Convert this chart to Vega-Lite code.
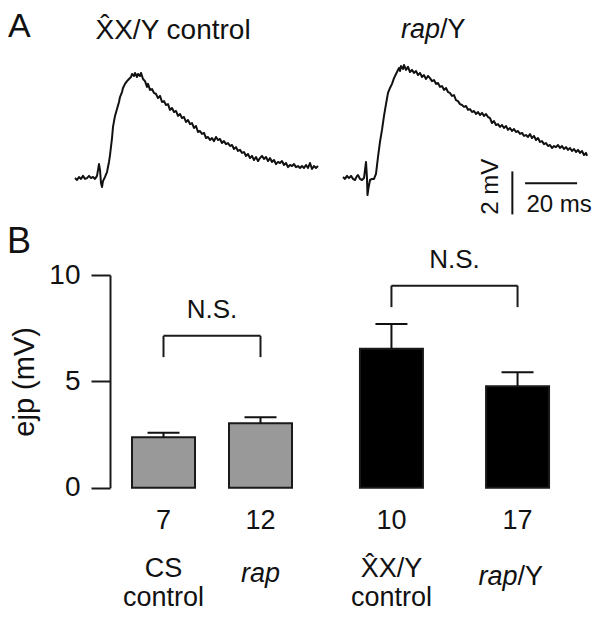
{
"$schema": "https://vega.github.io/schema/vega-lite/v6.json",
"width": 602, "height": 619, "autosize": {"type": "none"}, "padding": 0, "background": "white",
"config": {"view": {"stroke": null}, "font": "Liberation Sans", "text": {"font": "Liberation Sans", "color": "#111111"},
 "axis": {"grid": false, "tickSize": 19, "tickWidth": 2, "tickColor": "#1a1a1a", "domainWidth": 2, "domainColor": "#1a1a1a",
  "labelFont": "Liberation Sans", "labelFontSize": 28, "labelColor": "#111111", "labelPadding": 11,
  "titleFont": "Liberation Sans", "titleFontSize": 29, "titleFontWeight": "normal", "titleColor": "#111111", "titlePadding": 9}},
"datasets": {
"traces": [
{"trace":"control","t":-9.62,"mV":0.09},{"trace":"control","t":-8.85,"mV":0.00},{"trace":"control","t":-8.08,"mV":0.14},{"trace":"control","t":-7.31,"mV":0.05},{"trace":"control","t":-6.54,"mV":0.19},{"trace":"control","t":-5.77,"mV":0.05},{"trace":"control","t":-5.00,"mV":0.09},{"trace":"control","t":-4.23,"mV":0.19},{"trace":"control","t":-3.46,"mV":0.09},{"trace":"control","t":-2.69,"mV":0.14},{"trace":"control","t":-1.92,"mV":0.05},{"trace":"control","t":-1.15,"mV":0.19},{"trace":"control","t":-0.38,"mV":0.74},{"trace":"control","t":0.00,"mV":0.47},{"trace":"control","t":0.38,"mV":-0.14},{"trace":"control","t":0.77,"mV":-0.33},{"trace":"control","t":1.15,"mV":-0.05},{"trace":"control","t":1.92,"mV":0.14},{"trace":"control","t":2.69,"mV":0.37},{"trace":"control","t":3.46,"mV":0.84},{"trace":"control","t":3.85,"mV":1.16},{"trace":"control","t":4.62,"mV":1.95},{"trace":"control","t":5.00,"mV":2.47},{"trace":"control","t":5.77,"mV":2.98},{"trace":"control","t":6.54,"mV":3.30},{"trace":"control","t":7.31,"mV":3.63},{"trace":"control","t":7.69,"mV":3.86},{"trace":"control","t":8.46,"mV":4.09},{"trace":"control","t":8.85,"mV":4.28},{"trace":"control","t":9.62,"mV":4.47},{"trace":"control","t":10.38,"mV":4.60},{"trace":"control","t":11.15,"mV":4.70},{"trace":"control","t":11.92,"mV":4.79},{"trace":"control","t":12.31,"mV":4.93},{"trace":"control","t":13.08,"mV":4.84},{"trace":"control","t":13.46,"mV":4.98},{"trace":"control","t":14.23,"mV":4.79},{"trace":"control","t":14.62,"mV":4.93},{"trace":"control","t":15.38,"mV":4.84},{"trace":"control","t":15.77,"mV":4.98},{"trace":"control","t":16.54,"mV":4.70},{"trace":"control","t":17.31,"mV":4.60},{"trace":"control","t":18.08,"mV":4.33},{"trace":"control","t":18.46,"mV":4.47},{"trace":"control","t":19.23,"mV":4.19},{"trace":"control","t":20.00,"mV":4.23},{"trace":"control","t":20.77,"mV":4.05},{"trace":"control","t":21.54,"mV":4.00},{"trace":"control","t":22.31,"mV":3.81},{"trace":"control","t":23.08,"mV":3.91},{"trace":"control","t":23.85,"mV":3.63},{"trace":"control","t":24.62,"mV":3.67},{"trace":"control","t":25.38,"mV":3.49},{"trace":"control","t":26.15,"mV":3.53},{"trace":"control","t":26.92,"mV":3.26},{"trace":"control","t":27.69,"mV":3.35},{"trace":"control","t":28.46,"mV":3.16},{"trace":"control","t":29.23,"mV":3.21},{"trace":"control","t":30.00,"mV":2.98},{"trace":"control","t":30.77,"mV":3.07},{"trace":"control","t":31.54,"mV":2.88},{"trace":"control","t":32.31,"mV":2.93},{"trace":"control","t":33.08,"mV":2.70},{"trace":"control","t":33.85,"mV":2.79},{"trace":"control","t":34.62,"mV":2.60},{"trace":"control","t":35.38,"mV":2.65},{"trace":"control","t":36.15,"mV":2.42},{"trace":"control","t":36.92,"mV":2.51},{"trace":"control","t":37.69,"mV":2.23},{"trace":"control","t":38.46,"mV":2.28},{"trace":"control","t":39.23,"mV":2.14},{"trace":"control","t":40.00,"mV":2.19},{"trace":"control","t":40.77,"mV":1.95},{"trace":"control","t":41.54,"mV":2.00},{"trace":"control","t":42.31,"mV":1.86},{"trace":"control","t":43.08,"mV":1.95},{"trace":"control","t":43.85,"mV":1.81},{"trace":"control","t":44.62,"mV":2.00},{"trace":"control","t":45.38,"mV":1.86},{"trace":"control","t":46.15,"mV":1.91},{"trace":"control","t":46.92,"mV":1.72},{"trace":"control","t":47.69,"mV":1.81},{"trace":"control","t":48.46,"mV":1.67},{"trace":"control","t":49.23,"mV":1.72},{"trace":"control","t":50.00,"mV":1.58},{"trace":"control","t":50.77,"mV":1.63},{"trace":"control","t":51.54,"mV":1.44},{"trace":"control","t":52.31,"mV":1.53},{"trace":"control","t":53.08,"mV":1.35},{"trace":"control","t":53.85,"mV":1.40},{"trace":"control","t":54.62,"mV":1.26},{"trace":"control","t":55.38,"mV":1.30},{"trace":"control","t":56.15,"mV":1.12},{"trace":"control","t":56.92,"mV":1.21},{"trace":"control","t":57.69,"mV":1.02},{"trace":"control","t":58.46,"mV":1.12},{"trace":"control","t":59.23,"mV":0.93},{"trace":"control","t":60.00,"mV":1.07},{"trace":"control","t":60.77,"mV":0.88},{"trace":"control","t":61.54,"mV":1.02},{"trace":"control","t":62.31,"mV":1.12},{"trace":"control","t":63.08,"mV":0.98},{"trace":"control","t":63.85,"mV":1.07},{"trace":"control","t":64.62,"mV":0.88},{"trace":"control","t":65.38,"mV":1.02},{"trace":"control","t":66.15,"mV":0.84},{"trace":"control","t":66.92,"mV":0.93},{"trace":"control","t":67.69,"mV":0.74},{"trace":"control","t":68.46,"mV":0.84},{"trace":"control","t":69.23,"mV":0.79},{"trace":"control","t":70.00,"mV":0.88},{"trace":"control","t":70.77,"mV":0.70},{"trace":"control","t":71.54,"mV":0.79},{"trace":"control","t":72.31,"mV":0.60},{"trace":"control","t":73.08,"mV":0.70},{"trace":"control","t":73.85,"mV":0.65},{"trace":"control","t":74.62,"mV":0.74},{"trace":"control","t":75.38,"mV":0.60},{"trace":"control","t":76.15,"mV":0.65},{"trace":"control","t":76.92,"mV":0.56},{"trace":"control","t":77.69,"mV":0.65},{"trace":"control","t":78.46,"mV":0.56},{"trace":"control","t":79.23,"mV":0.70},{"trace":"control","t":80.00,"mV":0.56},{"trace":"control","t":80.77,"mV":0.79},{"trace":"control","t":81.54,"mV":0.51},{"trace":"control","t":82.31,"mV":0.65},{"trace":"control","t":83.08,"mV":0.56},{"trace":"control","t":83.85,"mV":0.65},
{"trace":"rap/Y","t":93.46,"mV":0.14},{"trace":"rap/Y","t":94.23,"mV":0.05},{"trace":"rap/Y","t":95.00,"mV":0.19},{"trace":"rap/Y","t":95.77,"mV":0.09},{"trace":"rap/Y","t":96.54,"mV":0.19},{"trace":"rap/Y","t":97.31,"mV":0.05},{"trace":"rap/Y","t":98.08,"mV":0.00},{"trace":"rap/Y","t":98.85,"mV":0.19},{"trace":"rap/Y","t":99.23,"mV":0.23},{"trace":"rap/Y","t":100.00,"mV":0.05},{"trace":"rap/Y","t":100.77,"mV":0.00},{"trace":"rap/Y","t":101.54,"mV":0.09},{"trace":"rap/Y","t":102.31,"mV":0.84},{"trace":"rap/Y","t":102.69,"mV":0.09},{"trace":"rap/Y","t":102.88,"mV":-0.70},{"trace":"rap/Y","t":103.27,"mV":-0.37},{"trace":"rap/Y","t":103.85,"mV":0.00},{"trace":"rap/Y","t":104.62,"mV":0.05},{"trace":"rap/Y","t":105.38,"mV":0.05},{"trace":"rap/Y","t":106.15,"mV":0.28},{"trace":"rap/Y","t":106.92,"mV":1.07},{"trace":"rap/Y","t":107.69,"mV":1.77},{"trace":"rap/Y","t":108.46,"mV":2.33},{"trace":"rap/Y","t":109.23,"mV":2.98},{"trace":"rap/Y","t":110.00,"mV":3.53},{"trace":"rap/Y","t":110.77,"mV":4.05},{"trace":"rap/Y","t":111.54,"mV":4.28},{"trace":"rap/Y","t":112.31,"mV":4.47},{"trace":"rap/Y","t":113.08,"mV":4.74},{"trace":"rap/Y","t":113.85,"mV":4.93},{"trace":"rap/Y","t":114.62,"mV":5.12},{"trace":"rap/Y","t":115.00,"mV":5.21},{"trace":"rap/Y","t":115.38,"mV":5.07},{"trace":"rap/Y","t":115.77,"mV":5.30},{"trace":"rap/Y","t":116.54,"mV":5.16},{"trace":"rap/Y","t":116.92,"mV":5.35},{"trace":"rap/Y","t":117.69,"mV":5.12},{"trace":"rap/Y","t":118.46,"mV":5.26},{"trace":"rap/Y","t":119.23,"mV":5.02},{"trace":"rap/Y","t":120.00,"mV":5.12},{"trace":"rap/Y","t":120.77,"mV":4.98},{"trace":"rap/Y","t":121.54,"mV":5.07},{"trace":"rap/Y","t":122.31,"mV":4.88},{"trace":"rap/Y","t":123.08,"mV":4.98},{"trace":"rap/Y","t":123.85,"mV":4.79},{"trace":"rap/Y","t":124.62,"mV":4.88},{"trace":"rap/Y","t":125.38,"mV":4.70},{"trace":"rap/Y","t":126.15,"mV":4.84},{"trace":"rap/Y","t":126.92,"mV":4.74},{"trace":"rap/Y","t":127.69,"mV":4.60},{"trace":"rap/Y","t":128.46,"mV":4.65},{"trace":"rap/Y","t":129.23,"mV":4.47},{"trace":"rap/Y","t":130.00,"mV":4.51},{"trace":"rap/Y","t":130.77,"mV":4.33},{"trace":"rap/Y","t":131.54,"mV":4.37},{"trace":"rap/Y","t":132.31,"mV":4.19},{"trace":"rap/Y","t":133.08,"mV":4.28},{"trace":"rap/Y","t":133.85,"mV":4.09},{"trace":"rap/Y","t":134.62,"mV":4.05},{"trace":"rap/Y","t":135.38,"mV":3.91},{"trace":"rap/Y","t":136.15,"mV":3.95},{"trace":"rap/Y","t":136.92,"mV":3.72},{"trace":"rap/Y","t":137.69,"mV":3.67},{"trace":"rap/Y","t":138.46,"mV":3.53},{"trace":"rap/Y","t":139.23,"mV":3.49},{"trace":"rap/Y","t":140.00,"mV":3.40},{"trace":"rap/Y","t":140.77,"mV":3.44},{"trace":"rap/Y","t":141.54,"mV":3.26},{"trace":"rap/Y","t":142.31,"mV":3.30},{"trace":"rap/Y","t":143.08,"mV":3.16},{"trace":"rap/Y","t":143.85,"mV":3.21},{"trace":"rap/Y","t":144.62,"mV":3.07},{"trace":"rap/Y","t":145.38,"mV":3.16},{"trace":"rap/Y","t":146.15,"mV":3.02},{"trace":"rap/Y","t":146.92,"mV":3.12},{"trace":"rap/Y","t":147.69,"mV":2.98},{"trace":"rap/Y","t":148.46,"mV":3.07},{"trace":"rap/Y","t":149.23,"mV":2.93},{"trace":"rap/Y","t":150.00,"mV":2.88},{"trace":"rap/Y","t":150.77,"mV":2.65},{"trace":"rap/Y","t":151.54,"mV":2.74},{"trace":"rap/Y","t":152.31,"mV":2.56},{"trace":"rap/Y","t":153.08,"mV":2.60},{"trace":"rap/Y","t":153.85,"mV":2.47},{"trace":"rap/Y","t":154.62,"mV":2.56},{"trace":"rap/Y","t":155.38,"mV":2.42},{"trace":"rap/Y","t":156.15,"mV":2.51},{"trace":"rap/Y","t":156.92,"mV":2.33},{"trace":"rap/Y","t":157.69,"mV":2.42},{"trace":"rap/Y","t":158.46,"mV":2.28},{"trace":"rap/Y","t":159.23,"mV":2.37},{"trace":"rap/Y","t":160.00,"mV":2.23},{"trace":"rap/Y","t":160.77,"mV":2.28},{"trace":"rap/Y","t":161.54,"mV":2.14},{"trace":"rap/Y","t":162.31,"mV":2.19},{"trace":"rap/Y","t":163.08,"mV":2.05},{"trace":"rap/Y","t":163.85,"mV":2.09},{"trace":"rap/Y","t":164.62,"mV":2.00},{"trace":"rap/Y","t":165.38,"mV":2.14},{"trace":"rap/Y","t":166.15,"mV":1.95},{"trace":"rap/Y","t":166.92,"mV":2.05},{"trace":"rap/Y","t":167.69,"mV":1.86},{"trace":"rap/Y","t":168.46,"mV":1.95},{"trace":"rap/Y","t":169.23,"mV":1.77},{"trace":"rap/Y","t":170.00,"mV":1.81},{"trace":"rap/Y","t":170.77,"mV":1.67},{"trace":"rap/Y","t":171.54,"mV":1.72},{"trace":"rap/Y","t":172.31,"mV":1.58},{"trace":"rap/Y","t":173.08,"mV":1.63},{"trace":"rap/Y","t":173.85,"mV":1.49},{"trace":"rap/Y","t":174.62,"mV":1.58},{"trace":"rap/Y","t":175.38,"mV":1.53},{"trace":"rap/Y","t":176.15,"mV":1.63},{"trace":"rap/Y","t":176.92,"mV":1.49},{"trace":"rap/Y","t":177.69,"mV":1.58},{"trace":"rap/Y","t":178.46,"mV":1.44},{"trace":"rap/Y","t":179.23,"mV":1.53},{"trace":"rap/Y","t":180.00,"mV":1.40},{"trace":"rap/Y","t":180.77,"mV":1.49},{"trace":"rap/Y","t":181.54,"mV":1.35},{"trace":"rap/Y","t":182.31,"mV":1.44},{"trace":"rap/Y","t":183.08,"mV":1.30},{"trace":"rap/Y","t":183.85,"mV":1.40},{"trace":"rap/Y","t":184.62,"mV":1.26},{"trace":"rap/Y","t":185.38,"mV":1.35},{"trace":"rap/Y","t":186.15,"mV":1.16},{"trace":"rap/Y","t":186.92,"mV":1.26},{"trace":"rap/Y","t":187.31,"mV":1.12}
],
"scalebars": [
{"bar":"2 mV","t_start":158.6,"t_end":158.6,"mV_start":-1.6,"mV_end":0.4},
{"bar":"20 ms","t_start":163.5,"t_end":183.5,"mV_start":-0.15,"mV_end":-0.15}
],
"bars": [
{"genotype":"CS control","pos":1,"sex":"female","mean":2.37,"upper":2.59,"n":7},
{"genotype":"rap","pos":2,"sex":"female","mean":3.03,"upper":3.31,"n":12},
{"genotype":"X\u0302X/Y control","pos":3.35,"sex":"male","mean":6.53,"upper":7.70,"n":10},
{"genotype":"rap/Y","pos":4.65,"sex":"male","mean":4.77,"upper":5.43,"n":17}
],
"comparisons": [
{"from":1,"to":2,"top":7.14,"leg":6.14,"label":"N.S."},
{"from":3.35,"to":4.65,"top":9.5,"leg":8.49,"label":"N.S."}
]
},
"layer": [
{
"layer": [
{"data": {"name": "traces"},
 "mark": {"type": "line", "color": "#111111", "strokeWidth": 2, "strokeJoin": "round"},
 "encoding": {
  "x": {"field": "t", "type": "quantitative", "scale": {"domain": [0, 100], "range": [100, 360], "zero": false, "nice": false, "padding": 0}, "axis": null},
  "y": {"field": "mV", "type": "quantitative", "scale": {"domain": [0, 2], "range": [180, 137], "zero": false, "nice": false, "padding": 0}, "axis": null},
  "detail": {"field": "trace"}}},
{"data": {"name": "scalebars"},
 "mark": {"type": "rule", "color": "#111111", "strokeWidth": 2},
 "encoding": {
  "x": {"field": "t_start", "type": "quantitative", "axis": null}, "x2": {"field": "t_end"},
  "y": {"field": "mV_start", "type": "quantitative", "axis": null}, "y2": {"field": "mV_end"}}},
{"data": {"values": [{"label": "2 mV"}]},
 "mark": {"type": "text", "fontSize": 24, "angle": 270, "align": "center", "baseline": "alphabetic"},
 "encoding": {"x": {"datum": 153.2, "axis": null}, "y": {"datum": -0.31, "axis": null}, "text": {"field": "label"}}},
{"data": {"values": [{"label": "20 ms"}]},
 "mark": {"type": "text", "fontSize": 24, "align": "center", "baseline": "alphabetic"},
 "encoding": {"x": {"datum": 176.6, "axis": null}, "y": {"datum": -1.48, "axis": null}, "text": {"field": "label"}}},
{"data": {"values": [{"label": "X\u0302X/Y control"}]},
 "mark": {"type": "text", "fontSize": 28, "align": "center", "baseline": "alphabetic"},
 "encoding": {"x": {"datum": 28.1, "axis": null}, "y": {"datum": 6.56, "axis": null}, "text": {"field": "label"}}},
{"data": {"values": [{"label": "rap"}]},
 "mark": {"type": "text", "fontSize": 27, "fontStyle": "italic", "align": "right", "baseline": "alphabetic"},
 "encoding": {"x": {"datum": 130.8, "axis": null}, "y": {"datum": 6.6, "axis": null}, "text": {"field": "label"}}},
{"data": {"values": [{"label": "/Y"}]},
 "mark": {"type": "text", "fontSize": 27, "align": "left", "baseline": "alphabetic"},
 "encoding": {"x": {"datum": 130.8, "axis": null}, "y": {"datum": 6.6, "axis": null}, "text": {"field": "label"}}},
{"data": {"values": [{"label": "A"}, {"label": "B"}]},
 "transform": [{"filter": "datum.label == 'A'"}],
 "mark": {"type": "text", "fontSize": 34, "align": "left", "baseline": "alphabetic"},
 "encoding": {"x": {"datum": -35.4, "axis": null}, "y": {"datum": 6.65, "axis": null}, "text": {"field": "label"}}}
]
},
{
"layer": [
{"data": {"name": "bars"},
 "mark": {"type": "bar", "width": 63, "stroke": "#1a1a1a", "strokeWidth": 2},
 "encoding": {
  "x": {"field": "pos", "type": "quantitative", "scale": {"domain": [1, 2], "range": [163.5, 260.5], "zero": false, "nice": false, "padding": 0}, "axis": null},
  "y": {"field": "mean", "type": "quantitative", "scale": {"domain": [0, 10], "range": [487.8, 275], "zero": false, "nice": false, "padding": 0},
        "axis": {"orient": "left", "values": [0, 5, 10], "format": "d", "offset": -110, "title": "ejp (mV)"}},
  "color": {"field": "sex", "type": "nominal", "scale": {"domain": ["female", "male"], "range": ["#999999", "#000000"]}, "legend": null}}},
{"data": {"name": "bars"},
 "mark": {"type": "rule", "color": "#111111", "strokeWidth": 2},
 "encoding": {"x": {"field": "pos", "type": "quantitative", "axis": null},
  "y": {"field": "mean", "type": "quantitative", "axis": {"orient": "left", "values": [0, 5, 10], "format": "d", "offset": -110, "title": "ejp (mV)"}},
  "y2": {"field": "upper"}}},
{"data": {"name": "bars"},
 "mark": {"type": "tick", "orient": "horizontal", "color": "#111111", "size": 32, "thickness": 2, "opacity": 1},
 "encoding": {"x": {"field": "pos", "type": "quantitative", "axis": null},
  "y": {"field": "upper", "type": "quantitative", "axis": {"orient": "left", "values": [0, 5, 10], "format": "d", "offset": -110, "title": "ejp (mV)"}}}},
{"data": {"name": "bars"},
 "mark": {"type": "text", "fontSize": 27, "align": "center", "baseline": "alphabetic"},
 "encoding": {"x": {"field": "pos", "type": "quantitative", "axis": null}, "y": {"datum": -1.94}, "text": {"field": "n"}}},
{"data": {"name": "bars"},
 "transform": [{"filter": "indexof(datum.genotype, 'control') >= 0"}],
 "mark": {"type": "text", "fontSize": 27, "align": "center", "baseline": "alphabetic", "lineBreak": " ", "lineHeight": 29},
 "encoding": {"x": {"field": "pos", "type": "quantitative", "axis": null}, "y": {"datum": -4.2}, "text": {"field": "genotype"}}},
{"data": {"name": "bars"},
 "transform": [{"filter": "datum.genotype == 'rap'"}],
 "mark": {"type": "text", "fontSize": 27, "fontStyle": "italic", "align": "center", "baseline": "alphabetic"},
 "encoding": {"x": {"field": "pos", "type": "quantitative", "axis": null}, "y": {"datum": -4.45}, "text": {"field": "genotype"}}},
{"data": {"name": "bars"},
 "transform": [{"filter": "datum.genotype == 'rap/Y'"}],
 "mark": {"type": "text", "text": "rap", "fontSize": 27, "fontStyle": "italic", "align": "right", "baseline": "alphabetic"},
 "encoding": {"x": {"field": "pos", "type": "quantitative", "axis": null}, "y": {"datum": -4.55}}},
{"data": {"name": "bars"},
 "transform": [{"filter": "datum.genotype == 'rap/Y'"}],
 "mark": {"type": "text", "text": "/Y", "fontSize": 27, "align": "left", "baseline": "alphabetic"},
 "encoding": {"x": {"field": "pos", "type": "quantitative", "axis": null}, "y": {"datum": -4.55}}},
{"data": {"name": "comparisons"},
 "mark": {"type": "rule", "color": "#1a1a1a", "strokeWidth": 2},
 "encoding": {"x": {"field": "from", "type": "quantitative", "axis": null}, "x2": {"field": "to"},
  "y": {"field": "top", "type": "quantitative", "axis": {"orient": "left", "values": [0, 5, 10], "format": "d", "offset": -110, "title": "ejp (mV)"}}}},
{"data": {"name": "comparisons"},
 "mark": {"type": "rule", "color": "#1a1a1a", "strokeWidth": 2},
 "encoding": {"x": {"field": "from", "type": "quantitative", "axis": null},
  "y": {"field": "leg", "type": "quantitative", "axis": {"orient": "left", "values": [0, 5, 10], "format": "d", "offset": -110, "title": "ejp (mV)"}}, "y2": {"field": "top"}}},
{"data": {"name": "comparisons"},
 "mark": {"type": "rule", "color": "#1a1a1a", "strokeWidth": 2},
 "encoding": {"x": {"field": "to", "type": "quantitative", "axis": null},
  "y": {"field": "leg", "type": "quantitative", "axis": {"orient": "left", "values": [0, 5, 10], "format": "d", "offset": -110, "title": "ejp (mV)"}}, "y2": {"field": "top"}}},
{"data": {"name": "comparisons"},
 "transform": [{"calculate": "(datum.from + datum.to) / 2", "as": "mid"}],
 "mark": {"type": "text", "fontSize": 26, "align": "center", "baseline": "alphabetic", "dy": -18},
 "encoding": {"x": {"field": "mid", "type": "quantitative", "axis": null},
  "y": {"field": "top", "type": "quantitative", "axis": {"orient": "left", "values": [0, 5, 10], "format": "d", "offset": -110, "title": "ejp (mV)"}}, "text": {"field": "label"}}},
{"data": {"values": [{"label": "B"}]},
 "mark": {"type": "text", "fontSize": 36, "align": "left", "baseline": "alphabetic"},
 "encoding": {"x": {"datum": -0.613, "axis": null}, "y": {"datum": 11.04}, "text": {"field": "label"}}}
]
}
],
"resolve": {"scale": {"x": "independent", "y": "independent"}, "axis": {"x": "independent", "y": "independent"}}
}
